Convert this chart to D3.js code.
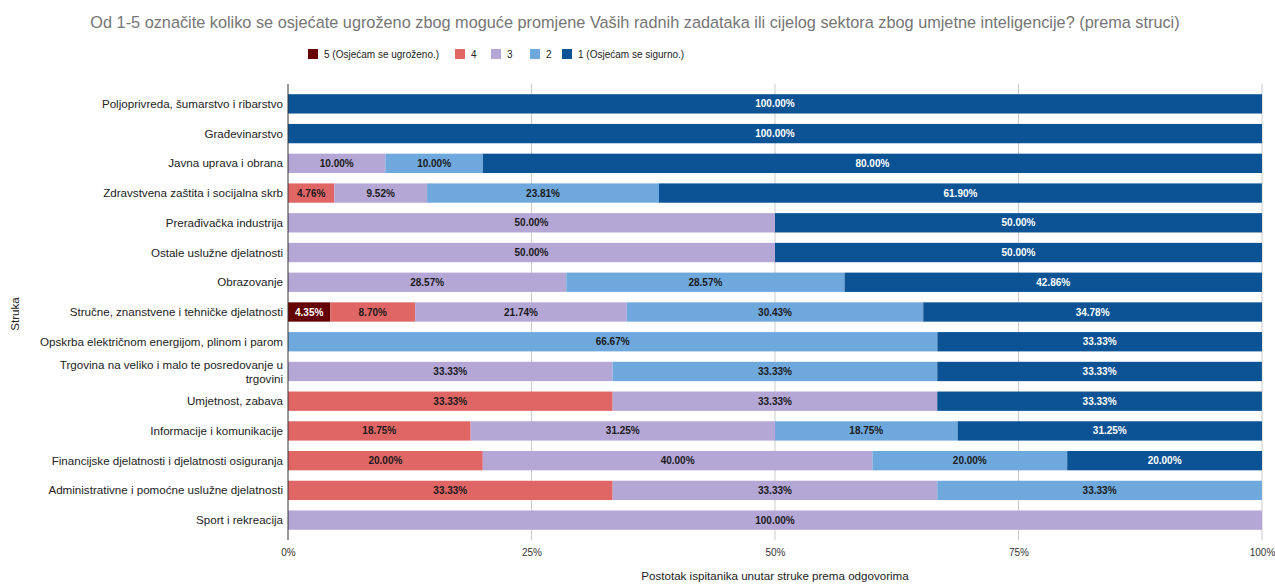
<!DOCTYPE html>
<html>
<head>
<meta charset="utf-8">
<script src="https://cdn.jsdelivr.net/npm/d3@7"></script>
<style>
  html, body { margin: 0; padding: 0; background: #fff; }
  svg { display: block; font-family: "Liberation Sans", Arial, sans-serif; }
</style>
</head>
<body>
<svg id="chart" width="1275" height="584"></svg>
<script>
const title = "Od 1-5 označite koliko se osjećate ugroženo zbog moguće promjene Vaših radnih zadataka ili cijelog sektora zbog umjetne inteligencije? (prema struci)";
const categories = [
  "Poljoprivreda, šumarstvo i ribarstvo",
  "Građevinarstvo",
  "Javna uprava i obrana",
  "Zdravstvena zaštita i socijalna skrb",
  "Prerađivačka industrija",
  "Ostale uslužne djelatnosti",
  "Obrazovanje",
  "Stručne, znanstvene i tehničke djelatnosti",
  "Opskrba električnom energijom, plinom i parom",
  "Trgovina na veliko i malo te posredovanje u trgovini",
  "Umjetnost, zabava",
  "Informacije i komunikacije",
  "Financijske djelatnosti i djelatnosti osiguranja",
  "Administrativne i pomoćne uslužne djelatnosti",
  "Sport i rekreacija"
];
const seriesNames = ["5 (Osjećam se ugroženo.)", "4", "3", "2", "1 (Osjećam se sigurno.)"];
const s5 = [0, 0, 0, 0, 0, 0, 0, 4.35, 0, 0, 0, 0, 0, 0, 0];
const s4 = [0, 0, 0, 4.76, 0, 0, 0, 8.70, 0, 0, 33.33, 18.75, 20.00, 33.33, 0];
const s3 = [0, 0, 10.00, 9.52, 50.00, 50.00, 28.57, 21.74, 0, 33.33, 33.33, 31.25, 40.00, 33.33, 100.00];
const s2 = [0, 0, 10.00, 23.81, 0, 0, 28.57, 30.43, 66.67, 33.33, 0, 18.75, 20.00, 33.33, 0];
const s1 = [100.00, 100.00, 80.00, 61.90, 50.00, 50.00, 42.86, 34.78, 33.33, 33.33, 33.33, 31.25, 20.00, 0, 0];
const tickValues = [0, 25, 50, 75, 100];
const tickLabels = ["0%", "25%", "50%", "75%", "100%"];
const colors = ["#660000", "#e06666", "#b4a7d6", "#6fa8dc", "#0b5394"];
const textColors = ["#ffffff", "#1a1a1a", "#1a1a1a", "#1a1a1a", "#ffffff"];

const seriesValues = [s5, s4, s3, s2, s1];
const svg = d3.select("#chart");
const plotLeft = 288, plotRight = 1262, plotTop = 89, plotBottom = 535;

const x = d3.scaleLinear().domain([0, 100]).range([plotLeft, plotRight]);
const y = d3.scaleBand().domain(categories).range([plotTop, plotBottom]).paddingInner(0.35).paddingOuter(0.175);

// title
svg.append("text").attr("x", 635).attr("y", 28).attr("text-anchor", "middle")
  .attr("font-size", 16.3).attr("fill", "#757575").text(title);

// legend
const legend = svg.append("g");
const legendX = [308, 455, 491, 530, 562];
seriesNames.forEach((n, i) => {
  legend.append("rect").attr("x", legendX[i]).attr("y", 49).attr("width", 10).attr("height", 10).attr("fill", colors[i]);
  legend.append("text").attr("x", legendX[i] + 16).attr("y", 58).attr("font-size", 10).attr("fill", "#222").text(n);
});

// gridlines
svg.append("g").selectAll("line").data(tickValues.slice(1)).join("line")
  .attr("x1", d => x(d)).attr("x2", d => x(d)).attr("y1", 84).attr("y2", 540)
  .attr("stroke", "#cccccc").attr("stroke-width", 1);

// bars
const stackData = categories.map((c, i) => {
  const row = { cat: c };
  seriesValues.forEach((s, k) => row["k" + k] = s[i]);
  return row;
});
const stack = d3.stack().keys(seriesValues.map((s, k) => "k" + k));
const stacked = stack(stackData);

stacked.forEach((layer, k) => {
  const g = svg.append("g");
  layer.forEach(seg => {
    const v = seg[1] - seg[0];
    if (v <= 0) return;
    const cat = seg.data.cat;
    g.append("rect")
      .attr("x", x(seg[0])).attr("y", y(cat))
      .attr("width", x(seg[1]) - x(seg[0])).attr("height", y.bandwidth())
      .attr("fill", colors[k]);
    g.append("text")
      .attr("x", (x(seg[0]) + x(seg[1])) / 2).attr("y", y(cat) + y.bandwidth() / 2 + 3.5)
      .attr("text-anchor", "middle").attr("font-size", 10).attr("font-weight", "bold")
      .attr("fill", textColors[k]).text(v.toFixed(2) + "%");
  });
});

// left axis line
svg.append("line").attr("x1", plotLeft).attr("x2", plotLeft).attr("y1", 84).attr("y2", 540)
  .attr("stroke", "#333").attr("stroke-width", 1);

// category labels
const catG = svg.append("g");
categories.forEach(c => {
  const cy = y(c) + y.bandwidth() / 2;
  if (c.startsWith("Trgovina")) {
    const t = catG.append("text").attr("text-anchor", "end").attr("font-size", 11.6).attr("fill", "#222");
    t.append("tspan").attr("x", 283).attr("y", cy - 2).text("Trgovina na veliko i malo te posredovanje u");
    t.append("tspan").attr("x", 283).attr("y", cy + 12).text("trgovini");
  } else {
    catG.append("text").attr("x", 283).attr("y", cy + 4).attr("text-anchor", "end")
      .attr("font-size", 11.6).attr("fill", "#222").text(c);
  }
});

// x axis ticks labels
const xAxis = d3.axisBottom(x).tickValues(tickValues).tickFormat((d, i) => tickLabels[i]).tickSize(0).tickPadding(0);
const ax = svg.append("g").attr("transform", `translate(0, 556)`).call(xAxis);
ax.select(".domain").remove();
ax.selectAll("text").attr("font-size", 10).attr("fill", "#333").attr("font-family", "Liberation Sans, Arial, sans-serif").attr("dy", 0);

// axis titles
svg.append("text").attr("x", 775).attr("y", 580).attr("text-anchor", "middle")
  .attr("font-size", 11.6).attr("fill", "#222").text("Postotak ispitanika unutar struke prema odgovorima");
svg.append("text").attr("transform", "translate(19, 314) rotate(-90)").attr("text-anchor", "middle")
  .attr("font-size", 11.6).attr("fill", "#222").text("Struka");
</script>
</body>
</html>
